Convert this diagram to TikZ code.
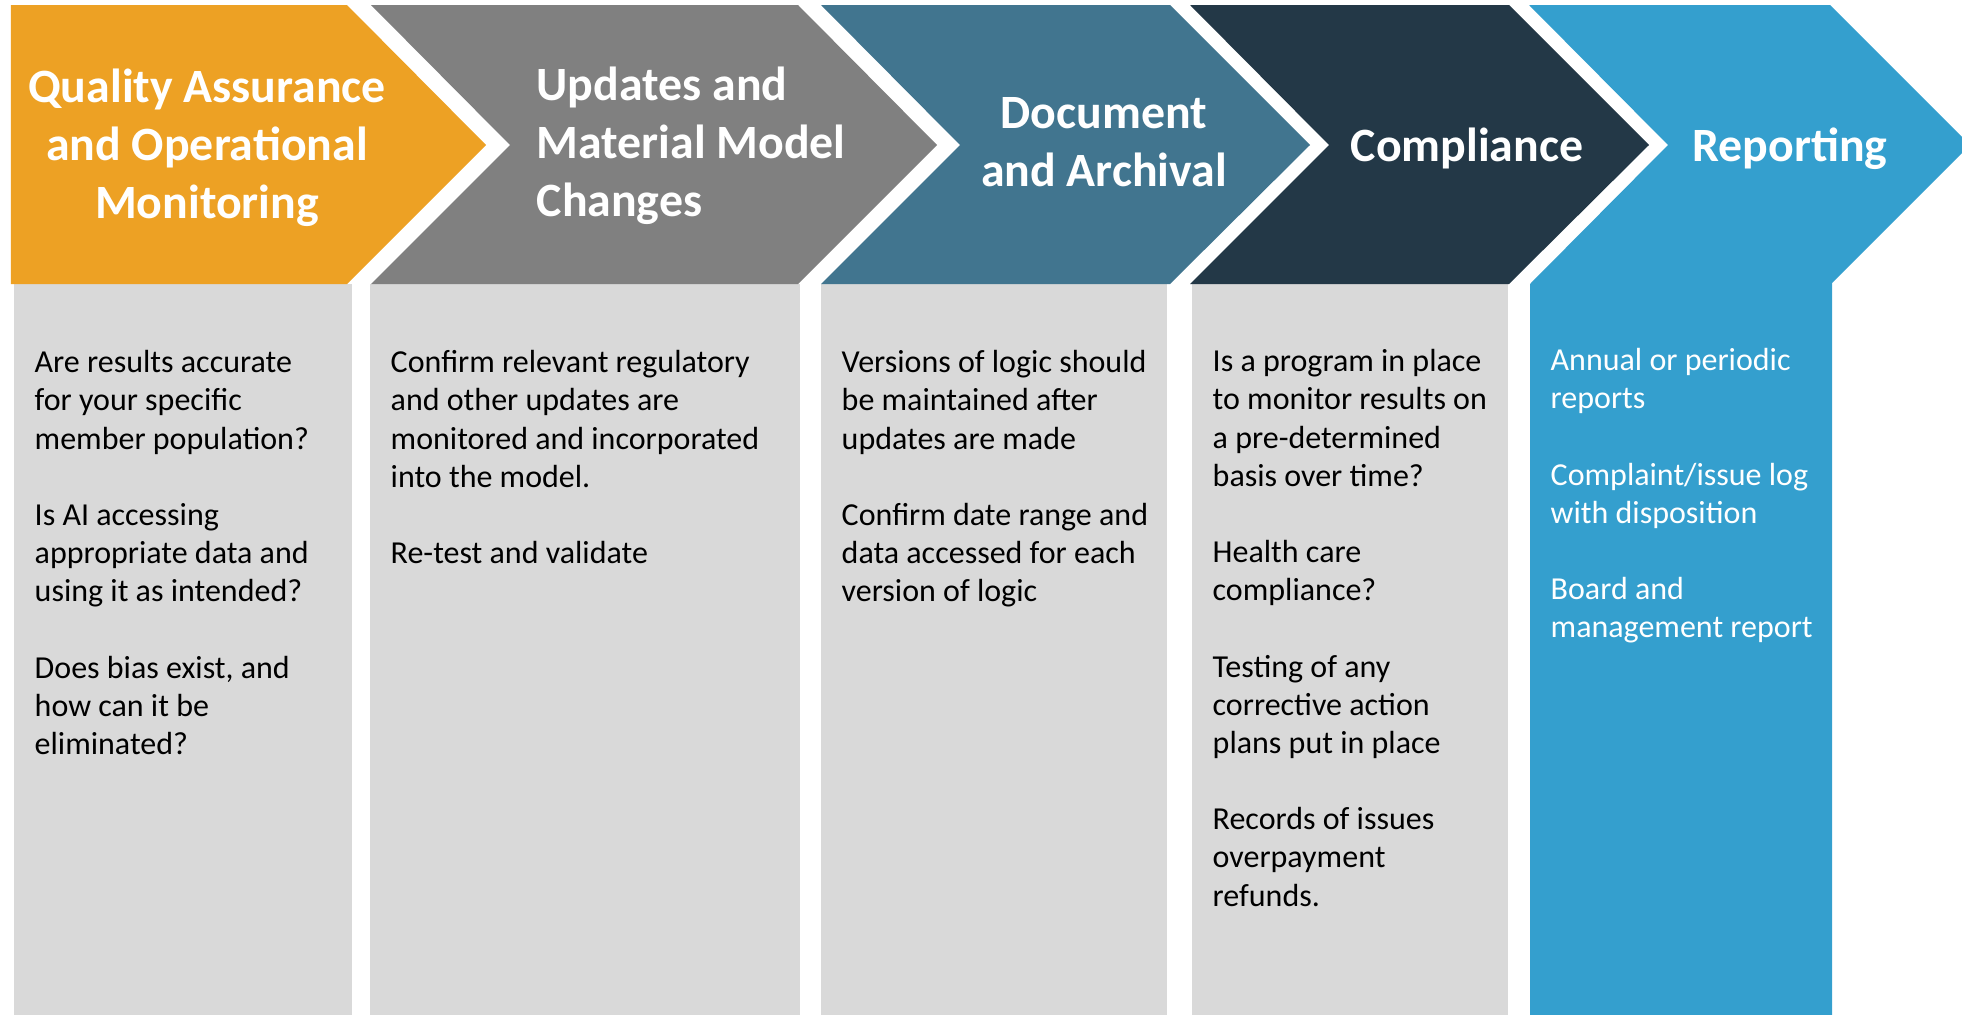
\documentclass[tikz,border=0pt]{standalone}
\usepackage{fontspec}
\setmainfont{Carlito}
\definecolor{naranja}{HTML}{EDA124}
\definecolor{gris}{HTML}{808080}
\definecolor{petroleo}{HTML}{41758F}
\definecolor{pizarra}{HTML}{233847}
\definecolor{celeste}{HTML}{349FCE}
\definecolor{fondo}{HTML}{D9D9D9}
\newcommand{\headfont}{\fontsize{13.6}{16.5}\selectfont\bfseries}
\newcommand{\bodyfont}{\fontsize{9.1}{10.85}\selectfont}
% invisible struts so the first line sits a fixed distance below the node top
\newcommand{\headstrut}{\rule{0pt}{10pt}}
\newcommand{\bodystrut}{\rule{0pt}{8pt}}

\begin{document}
\begin{tikzpicture}[x=0.01cm,y=-0.01cm,
    headtxt/.style={text=white,font=\headfont,inner sep=0pt},
    bodytxt/.style={anchor=north west,align=left,font=\bodyfont,inner sep=0pt}]
  \useasboundingbox (0,0) rectangle (1962,1015);
  \clip (0,0) rectangle (1962,1015);
  % columns under the chevrons
  \fill[fondo] (14,284) rectangle (352,1015);
  \fill[fondo] (370,284) rectangle (800,1015);
  \fill[fondo] (821,284) rectangle (1167,1015);
  \fill[fondo] (1192,284) rectangle (1508,1015);
  % chevrons
  \fill[naranja] (11,5) -- (347,5) -- (486,145) -- (347,284) -- (11,284) -- cycle;
  \fill[gris] (371,5) -- (798,5) -- (937,145) -- (798,284) -- (371,284) -- (510,145) -- cycle;
  \fill[petroleo] (821,5) -- (1170,5) -- (1310,145) -- (1170,284) -- (821,284) -- (960,145) -- cycle;
  \fill[pizarra] (1190,5) -- (1509,5) -- (1649,145) -- (1509,284) -- (1190,284) -- (1329,145) -- cycle;
  % last one runs down into its column
  \fill[celeste] (1529,5) -- (1830,5) -- (1970,145) -- (1832,283) -- (1832,1015)
    -- (1530,1015) -- (1530,284) -- (1668,145) -- cycle;
  % headings (top = first baseline - 35)
  \node[headtxt,anchor=north,align=center] (qa) at (207,67)
    {\headstrut Quality Assurance\\and Operational\\Monitoring};
  \node[headtxt,anchor=north west,align=left] (upd) at (536,65)
    {\headstrut Updates and\\Material Model\\Changes};
  \node[headtxt,anchor=north,align=center] (doc) at (1104,93)
    {\headstrut Document\\and Archival};
  \node[headtxt,anchor=base] (comp) at (1467,162) {Compliance};
  \node[headtxt,anchor=base] (rep) at (1790,162) {Reporting};
  % column texts (top = first baseline - 28)
  \node[bodytxt] (qatxt) at (34,344)
    {\bodystrut Are results accurate\\for your specific\\member population?\\[10.85pt]
     Is AI accessing\\appropriate data and\\using it as intended?\\[10.85pt]
     Does bias exist, and\\how can it be\\eliminated?};
  \node[bodytxt] (updtxt) at (390,344)
    {\bodystrut Confirm relevant regulatory\\and other updates are\\monitored and incorporated\\into the model.\\[10.85pt]
     Re-test and validate};
  \node[bodytxt] (doctxt) at (841,344)
    {\bodystrut Versions of logic should\\be maintained after\\updates are made\\[10.85pt]
     Confirm date range and\\data accessed for each\\version of logic};
  \node[bodytxt] (comptxt) at (1212,343)
    {\bodystrut Is a program in place\\to monitor results on\\a pre-determined\\basis over time?\\[10.85pt]
     Health care\\compliance?\\[10.85pt]
     Testing of any\\corrective action\\plans put in place\\[10.85pt]
     Records of issues\\overpayment\\refunds.};
  \node[bodytxt,text=white] (reptxt) at (1550,342)
    {\bodystrut Annual or periodic\\reports\\[10.85pt]
     Complaint/issue log\\with disposition\\[10.85pt]
     Board and\\management report};
\end{tikzpicture}
\end{document}
